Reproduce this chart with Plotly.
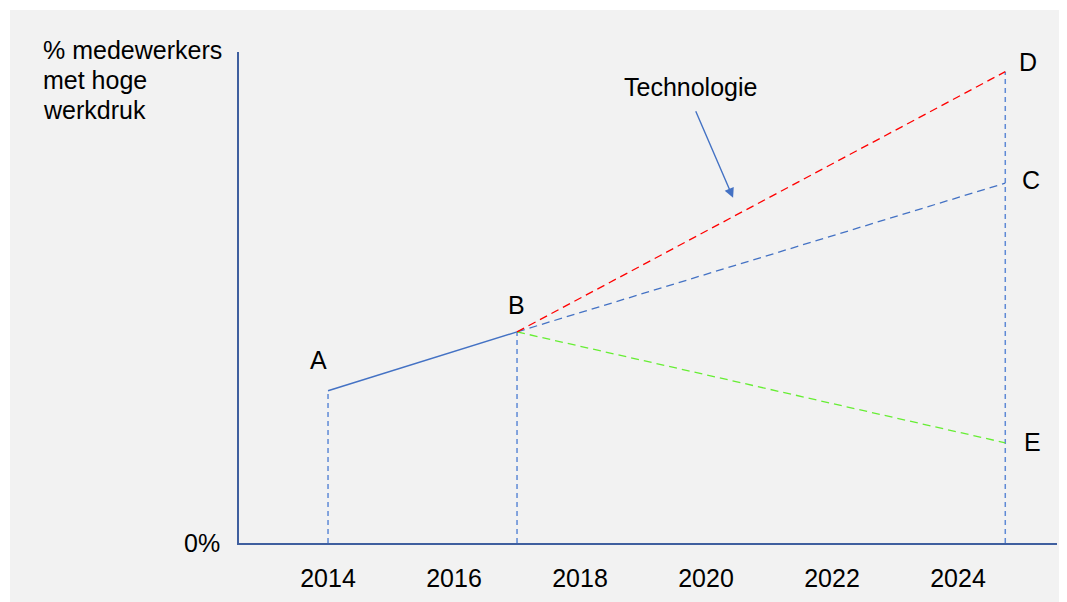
import plotly.graph_objects as go

# Data
hist_years = [2014, 2017]
hist_values = [31, 43]
proj_years = [2017, 2024.75]
tech_values = [43, 96]      # D
trend_values = [43, 73.3]   # C
low_values = [43, 20.4]     # E
x_ticks = [2014, 2016, 2018, 2020, 2022, 2024]
x_tick_labels = ["2014", "2016", "2018", "2020", "2022", "2024"]
point_labels = ["A", "B", "C", "D", "E"]
y_title_lines = ["% medewerkers", "met hoge", "werkdruk"]

FONT = "Liberation Sans, Arial, sans-serif"
FS = 25
BLUE = "#4472c4"
VBLUE = "#5f8ad6"
AXIS = "#3f5f9f"

fig = go.Figure()

# vertical dashed drop lines
for xv, yv in [(hist_years[0], hist_values[0]), (hist_years[1], hist_values[1]), (proj_years[1], tech_values[1])]:
    fig.add_trace(go.Scatter(x=[xv, xv], y=[0, yv], mode="lines",
                             line=dict(color=VBLUE, width=1.5, dash="5px,4px"),
                             hoverinfo="skip", showlegend=False))

fig.add_trace(go.Scatter(x=hist_years, y=hist_values, mode="lines",
                         line=dict(color=BLUE, width=1.5), showlegend=False))
fig.add_trace(go.Scatter(x=proj_years, y=trend_values, mode="lines",
                         line=dict(color=BLUE, width=1.3, dash="8px,5px"), showlegend=False))
fig.add_trace(go.Scatter(x=proj_years, y=low_values, mode="lines",
                         line=dict(color="#66ee33", width=1.3, dash="8px,5px"), showlegend=False))
fig.add_trace(go.Scatter(x=proj_years, y=tech_values, mode="lines",
                         line=dict(color="#ff0000", width=1.3, dash="8px,5px"), showlegend=False))

annotations = []
lab_pts = [
    (hist_years[0], hist_values[0], -10, 31),
    (hist_years[1], hist_values[1], -1, 27),
    (proj_years[1], trend_values[1], 26, 3),
    (proj_years[1], tech_values[1], 23, 10),
    (proj_years[1], low_values[1], 27, 1),
]
for lab, (xv, yv, dx, dy) in zip(point_labels, lab_pts):
    annotations.append(dict(x=xv, y=yv, text=lab, showarrow=False, xshift=dx, yshift=dy,
                            font=dict(family=FONT, size=FS, color="#000")))

# Technologie label + arrow
annotations.append(dict(x=2019.76, y=92.8, text="Technologie", showarrow=False,
                        font=dict(family=FONT, size=FS, color="#000")))
annotations.append(dict(x=2020.43, y=70.3, ax=-38, ay=-88, text="", showarrow=True,
                        arrowhead=2, arrowsize=1.4, arrowwidth=1.4, arrowcolor=BLUE))

# y title (three lines)
for line, yp in zip(y_title_lines, [1.004, 0.943, 0.882]):
    annotations.append(dict(xref="paper", yref="paper", x=-0.2417, y=yp, xanchor="left", yanchor="middle",
                            text=line, showarrow=False,
                            font=dict(family=FONT, size=FS, color="#000")))

fig.update_layout(
    width=1067, height=602,
    margin=dict(l=231, r=18, t=44, b=67),
    paper_bgcolor="white",
    plot_bgcolor="rgba(0,0,0,0)",
    showlegend=False,
    annotations=annotations,
    shapes=[dict(type="rect", xref="paper", yref="paper", x0=-0.28, x1=1.1, y0=-0.2, y1=1.0855,
                 fillcolor="#f2f2f2", line=dict(width=0), layer="below")],
    xaxis=dict(range=[2012.587, 2025.571], tickvals=x_ticks, ticktext=x_tick_labels,
               showgrid=False, zeroline=False, showline=True, linecolor=AXIS, linewidth=1.5,
               ticks="", ticklabelstandoff=12, tickfont=dict(family=FONT, size=FS, color="#000")),
    yaxis=dict(range=[0, 100], tickvals=[0], ticktext=["0%"],
               showgrid=False, zeroline=False, showline=True, linecolor=AXIS, linewidth=1.5,
               ticks="", ticklabelstandoff=12, tickfont=dict(family=FONT, size=FS, color="#000")),
)

fig.write_html("out.html")
